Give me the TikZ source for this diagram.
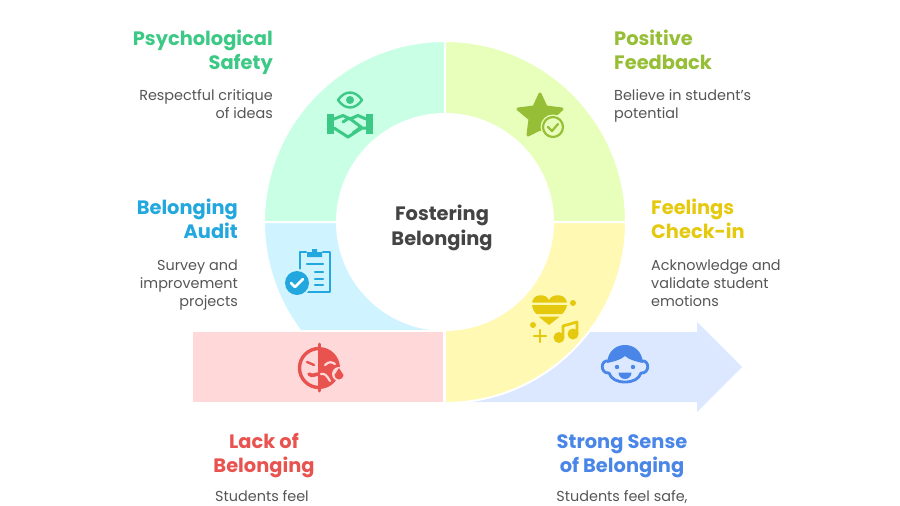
\documentclass[tikz,border=0pt]{standalone}
\usepackage{fontspec}
\setmainfont{Poppins}
\definecolor{safetyC}{HTML}{3CC985}
\definecolor{safetyL}{HTML}{C8FFE5}
\definecolor{praiseC}{HTML}{96BE36}
\definecolor{praiseL}{HTML}{E8FFBB}
\definecolor{auditC}{HTML}{22A8DE}
\definecolor{auditL}{HTML}{D0F4FF}
\definecolor{feelC}{HTML}{E5C90F}
\definecolor{feelL}{HTML}{FFF9B3}
\definecolor{lackC}{HTML}{E8534F}
\definecolor{lackL}{HTML}{FFD9D9}
\definecolor{strongC}{HTML}{4A86E8}
\definecolor{strongL}{HTML}{DBE8FF}
\definecolor{bodyC}{HTML}{555555}
\tikzset{
  headtext/.style={font=\bfseries\fontsize{19.4}{24}\selectfont, inner sep=0pt},
  bodytext/.style={font=\fontsize{14.4}{18}\selectfont, text=bodyC, inner sep=0pt},
  sector/.style={draw=white, line width=2pt},
}
\begin{document}
\begin{tikzpicture}[x=1pt, y=1pt, line join=round, line cap=round]
  % Page size
  \useasboundingbox (0,-506) rectangle (900,0);

  % Define parameters
  \def\Rout{181} % Outer radius of the ring
  \def\Rin{108} % Inner radius of the ring
  \coordinate (C) at (445,-222); % Center of the ring

  % Arrow at the back
  \fill[strongL] (300,-332) -- (697,-332) -- (697,-322) -- (742,-367) -- (697,-412) -- (697,-402) -- (300,-402) -- cycle;

  % Ring sectors
  \foreach \a/\b/\col in {90/180/safetyL, 0/90/praiseL, 180/270/auditL, 270/360/feelL}{
    \fill[\col] ([shift={(\a:\Rout)}]C) arc (\a:\b:\Rout) -- ([shift={(\b:\Rin)}]C) arc (\b:\a:\Rin) -- cycle;
    \draw[sector] ([shift={(\a:\Rout)}]C) arc (\a:\b:\Rout) -- ([shift={(\b:\Rin)}]C) arc (\b:\a:\Rin) -- cycle;
  }

  % Red bar over the ring
  \fill[white] (192,-330) rectangle (444,-403);
  \fill[lackL] (193,-332) rectangle (443,-402);

  % Center
  \node[font=\bfseries\fontsize{19.4}{24.5}\selectfont, text=bodyC!80!black, align=center, inner sep=0pt] (center) at (442,-228) {Fostering\\Belonging};

  % Headings
  \node[headtext, text=safetyC, align=right, anchor=north east] (safety) at (273,-30) {Psychological\\Safety};
  \node[headtext, text=praiseC, align=left, anchor=north west] (praise) at (614,-30) {Positive\\Feedback};
  \node[headtext, text=auditC, align=right, anchor=north east] (audit) at (238,-199) {Belonging\\Audit};
  \node[headtext, text=feelC, align=left, anchor=north west] (feel) at (651,-199) {Feelings\\Check-in};
  \node[headtext, text=lackC, align=center, anchor=north] (lack) at (264,-433) {Lack of\\Belonging};
  \node[headtext, text=strongC, align=center, anchor=north] (strong) at (622,-434) {Strong Sense\\of Belonging};

  % Descriptions
  \node[bodytext, align=right, anchor=north east] (safetytxt) at (273,-89) {Respectful critique\\of ideas};
  \node[bodytext, align=left, anchor=north west] (praisetxt) at (614,-89) {Believe in student's\\potential};
  \node[bodytext, align=right, anchor=north east] (audittxt) at (238,-260) {Survey and\\improvement\\projects};
  \node[bodytext, align=left, anchor=north west] (feeltxt) at (651,-260) {Acknowledge and\\validate student\\emotions};
  \node[bodytext, anchor=north] (lacktxt) at (262,-490.5) {Students feel};
  \node[bodytext, anchor=north] (strongtxt) at (622,-490.5) {Students feel safe,};

  % Eye and handshake icon
  \begin{scope}[draw=safetyC, fill=safetyC]
    \draw[line width=2.4pt] (338,-100) .. controls (345,-90) and (355,-90) .. (362,-100) .. controls (355,-110) and (345,-110) .. (338,-100) -- cycle;
    \fill (350,-100) circle (4);
    \fill (327,-114) rectangle (334,-134);
    \fill (366,-114) rectangle (373,-134);
    \draw[line width=3pt] (334,-119) -- (343,-115.5) -- (350,-119) -- (358,-115.5) -- (366,-119);
    \draw[line width=3pt] (334,-128) -- (348,-137) -- (362,-128) -- (366,-128);
    \draw[line width=3pt] (343,-122) -- (349,-118) -- (361,-127) -- (353,-133);
  \end{scope}

  % Star icon
  \fill[praiseC, draw=praiseC, line width=3pt] (540,-94) -- (546,-107) -- (562,-109) -- (551,-119) -- (553,-135) -- (540,-129) -- (528,-135) -- (530,-119) -- (518,-109) -- (534,-107) -- cycle;
  \fill[praiseL] (553,-127) circle (12.5);
  \draw[praiseC, line width=2.2pt] (553,-127) circle (10);
  \draw[praiseC, line width=2.2pt] (548,-127) -- (552,-131) -- (558,-124);

  % Clipboard icon
  \begin{scope}[draw=auditC, fill=auditC]
    \draw[line width=2.4pt] (306,-252) -- (300,-252) -- (300,-292) -- (330,-292) -- (330,-252) -- (323,-252);
    \fill (307,-257) -- (322,-257) -- (322,-252) -- (317,-252) -- (317,-249) -- (312,-249) -- (312,-252) -- (307,-252) -- cycle;
    \foreach \yy/\xa in {-264/307, -272/315, -279/315, -285/315}{
      \draw[line width=2.2pt] (\xa,\yy) -- (323,\yy);
    }
    \fill[auditL] (297,-283) circle (14);
    \fill (297,-283) circle (12);
    \draw[white, line width=2.6pt] (291,-283) -- (295,-287) -- (303,-279);
  \end{scope}

  % Sad face icon
  \begin{scope}[draw=lackC, fill=lackC]
    \fill (319,-347) arc (90:-90:21) -- cycle;
    \draw[line width=3.4pt] (319,-348.5) arc (90:270:19.5);
    \draw[line width=3pt] (319,-344) -- (319,-391);
    \draw[line width=2.4pt] (307,-362) -- (314,-365);
    \draw[lackL, line width=2.2pt] (325,-365) .. controls (329,-361) and (332,-362) .. (335,-364);
    \draw[line width=3.6pt] (309,-374) .. controls (312,-377) and (315,-374) .. (319,-374);
    \draw[lackL, line width=2.2pt] (321,-374) .. controls (325,-373) and (327,-376) .. (330,-381);
    \fill[lackL] (339,-374) circle (7);
    \fill (339,-368) -- (343.5,-375) arc (0:-180:4.5) -- cycle;
  \end{scope}

  % Heart and music icon
  \begin{scope}[fill=feelC, draw=feelC]
    \begin{scope}
      \clip (525,-290) rectangle (575,-302.5) (525,-305) rectangle (575,-314) (525,-316.5) rectangle (575,-330);
      \fill (549,-325) .. controls (540,-318) and (532,-312) .. (532,-304) .. controls (532,-293) and (546,-293) .. (549,-300) .. controls (552,-293) and (567,-293) .. (567,-304) .. controls (567,-312) and (558,-318) .. (549,-325) -- cycle;
    \end{scope}
    \fill (573,-303) circle (3);
    \fill (533,-325) circle (3);
    \draw[line width=2.4pt] (534,-336) -- (546,-336) (540,-330) -- (540,-342);
    \fill (559,-337.5) circle (5.5);
    \fill (573,-334) circle (5.5);
    \draw[line width=2.8pt] (563,-337) -- (563,-326) -- (577,-322) -- (577,-334);
  \end{scope}

  % Child face icon
  \begin{scope}[fill=strongC, draw=strongC]
    % ears and jaw
    \draw[line width=2.8pt] (609,-361) .. controls (600,-359) and (600,-374) .. (609,-373) .. controls (611,-379) and (617,-382) .. (625,-382) .. controls (633,-382) and (639,-379) .. (641,-373) .. controls (650,-374) and (650,-359) .. (641,-361);
    % hair
    \fill (607,-363) .. controls (608,-351) and (616,-345) .. (625,-345) .. controls (634,-345) and (642,-351) .. (643,-363) .. controls (638,-362) and (629,-360) .. (625,-356) .. controls (621,-360) and (612,-362) .. (607,-363) -- cycle;
    \fill (617,-367) circle (2.2);
    \fill (633,-367) circle (2.2);
    \fill (618.5,-372.5) -- (631.5,-372.5) arc (0:-180:6.5) -- cycle;
  \end{scope}
\end{tikzpicture}
\end{document}
